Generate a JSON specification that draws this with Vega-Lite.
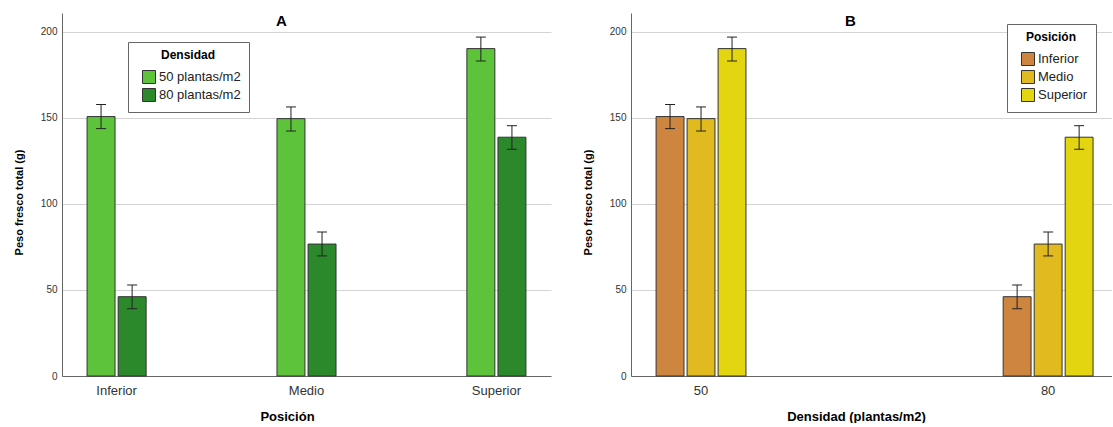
{
  "$schema": "https://vega.github.io/schema/vega-lite/v6.json",
  "padding": {"left": 13, "top": 13, "right": 0, "bottom": 0},
  "config": {
    "font": "Liberation Sans",
    "view": {"stroke": null},
    "axis": {"domainColor": "#666666", "gridColor": "#d4d4d4", "labelColor": "#333333", "titleColor": "#000000", "ticks": false},
    "legend": {"fillColor": "white", "strokeColor": "#666666", "padding": 8, "titleAnchor": "middle", "titleFontSize": 12, "titleFontWeight": "bold", "titleColor": "#000000", "labelFontSize": 13, "labelColor": "#222222", "symbolType": "square", "symbolSize": 169, "symbolStrokeColor": "#333333", "symbolStrokeWidth": 1, "symbolOffset": 6, "labelOffset": 3, "titlePadding": 8, "rowPadding": 0}
  },
  "data": {"values": [
    {"Posicion": "Inferior", "Densidad": "50 plantas/m2", "Dens": "50", "mean": 150.8, "lo": 143.8, "hi": 157.8},
    {"Posicion": "Medio", "Densidad": "50 plantas/m2", "Dens": "50", "mean": 149.6, "lo": 142.4, "hi": 156.4},
    {"Posicion": "Superior", "Densidad": "50 plantas/m2", "Dens": "50", "mean": 190.3, "lo": 183.1, "hi": 197.0},
    {"Posicion": "Inferior", "Densidad": "80 plantas/m2", "Dens": "80", "mean": 46.1, "lo": 39.1, "hi": 52.9},
    {"Posicion": "Medio", "Densidad": "80 plantas/m2", "Dens": "80", "mean": 76.7, "lo": 69.8, "hi": 83.7},
    {"Posicion": "Superior", "Densidad": "80 plantas/m2", "Dens": "80", "mean": 138.8, "lo": 131.8, "hi": 145.5}
  ]},
  "spacing": 31,
  "resolve": {"scale": {"x": "independent", "xOffset": "independent", "y": "independent", "color": "independent"}, "legend": {"color": "independent"}},
  "hconcat": [
    {
      "width": 489, "height": 363,
      "title": {"text": "A", "fontSize": 15, "fontWeight": "bold", "anchor": "middle", "dx": -25, "offset": -16},
      "encoding": {
        "x": {"field": "Posicion", "type": "nominal", "sort": ["Inferior", "Medio", "Superior"], "scale": {"paddingInner": 0.689, "paddingOuter": 0.132},
              "axis": {"labelAngle": 0, "labelFontSize": 13, "labelPadding": 8, "titleFontSize": 13, "titlePadding": 13, "titleX": 225}, "title": "Posición"},
        "xOffset": {"field": "Densidad", "type": "nominal", "scale": {"paddingInner": 0.1}}
      },
      "layer": [
        {"mark": {"type": "bar", "stroke": "#333333", "strokeWidth": 1},
         "encoding": {
           "y": {"field": "mean", "type": "quantitative", "scale": {"domain": [0, 211], "nice": false},
                 "axis": {"values": [0, 50, 100, 150, 200], "labelFontSize": 10, "labelPadding": 5, "titleFontSize": 11, "titlePadding": 16, "titleY": 189}, "title": "Peso fresco total (g)"},
           "color": {"field": "Densidad", "type": "nominal", "scale": {"range": ["#5dc33b", "#2b882b"]},
                     "legend": {"orient": "none", "legendX": 66, "legendY": 29, "title": "Densidad"}}
         }},
        {"mark": {"type": "rule", "color": "#222222", "strokeWidth": 1},
         "encoding": {"y": {"field": "lo", "type": "quantitative"}, "y2": {"field": "hi"}}},
        {"mark": {"type": "tick", "orient": "horizontal", "size": 10, "thickness": 1, "color": "#222222", "opacity": 1},
         "encoding": {"y": {"field": "lo", "type": "quantitative"}}},
        {"mark": {"type": "tick", "orient": "horizontal", "size": 10, "thickness": 1, "color": "#222222", "opacity": 1},
         "encoding": {"y": {"field": "hi", "type": "quantitative"}}}
      ]
    },
    {
      "width": 481, "height": 363,
      "title": {"text": "B", "fontSize": 15, "fontWeight": "bold", "anchor": "middle", "dx": -21, "offset": -16},
      "encoding": {
        "x": {"field": "Dens", "type": "nominal", "sort": ["50", "80"], "scale": {"paddingInner": 0.741, "paddingOuter": 0.0634, "align": 0.57},
              "axis": {"labelAngle": 0, "labelFontSize": 13, "labelPadding": 8, "titleFontSize": 13, "titlePadding": 13, "titleX": 225}, "title": "Densidad (plantas/m2)"},
        "xOffset": {"field": "Posicion", "type": "nominal", "sort": ["Inferior", "Medio", "Superior"], "scale": {"paddingInner": 0.1}}
      },
      "layer": [
        {"mark": {"type": "bar", "stroke": "#333333", "strokeWidth": 1},
         "encoding": {
           "y": {"field": "mean", "type": "quantitative", "scale": {"domain": [0, 211], "nice": false},
                 "axis": {"values": [0, 50, 100, 150, 200], "labelFontSize": 10, "labelPadding": 5, "titleFontSize": 11, "titlePadding": 16, "titleY": 189}, "title": "Peso fresco total (g)"},
           "color": {"field": "Posicion", "type": "nominal", "sort": ["Inferior", "Medio", "Superior"], "scale": {"range": ["#cd853f", "#e0ba1f", "#e3d50f"]},
                     "legend": {"orient": "none", "legendX": 376, "legendY": 11, "title": "Posición"}}
         }},
        {"mark": {"type": "rule", "color": "#222222", "strokeWidth": 1},
         "encoding": {"y": {"field": "lo", "type": "quantitative"}, "y2": {"field": "hi"}}},
        {"mark": {"type": "tick", "orient": "horizontal", "size": 10, "thickness": 1, "color": "#222222", "opacity": 1},
         "encoding": {"y": {"field": "lo", "type": "quantitative"}}},
        {"mark": {"type": "tick", "orient": "horizontal", "size": 10, "thickness": 1, "color": "#222222", "opacity": 1},
         "encoding": {"y": {"field": "hi", "type": "quantitative"}}}
      ]
    }
  ]
}
